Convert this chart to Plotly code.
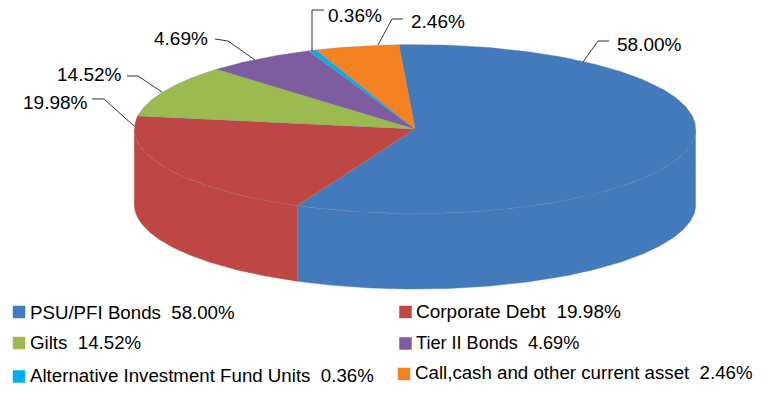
import numpy as np
import plotly.graph_objects as go

categories = ["PSU/PFI Bonds", "Corporate Debt", "Gilts", "Tier II Bonds",
              "Alternative Investment Fund Units", "Call,cash and other current asset"]
printed_pct = ["58.00%", "19.98%", "14.52%", "4.69%", "0.36%", "2.46%"]
drawn_share = [57.8, 20.55, 10.08, 6.28, 0.45, 4.84]
colors = ["#437ABC", "#BE4643", "#9BBA4F", "#7D5CA0", "#00AEEF", "#F58220"]

# Pie geometry
CX, CY, RX, RY, DEPTH = 415.0, 129.0, 280.7, 84.5, 75.5
START = 356.73

# Outside labels: text position and leader polyline
label_pos = [(649, 44), (55, 102), (89, 74), (181, 38), (355, 15), (438, 21)]
leaders = [
    [(609, 41), (598, 41), (583, 62)],
    [(92, 99), (104, 99), (134, 126)],
    [(127, 76), (138, 76), (162, 92)],
    [(215, 39), (228, 41), (255, 60)],
    [(324, 10), (312, 10), (312, 51)],
    [(403, 19), (392, 19), (378, 45)],
]
# Legend layout: square centre, text left, text centre y, font size
legend_sq = [(19, 312), (405.5, 312), (19, 343), (405.5, 343.5), (19, 376.5), (404, 374)]
legend_txt = [(28, 312), (414, 311), (28, 342), (414, 343), (28, 375), (413, 372)]
legend_size = [18.7, 19, 18.7, 18.1, 18.7, 18.7]


def ell(deg, dy=0.0):
    t = np.radians(deg)
    return CX + RX * np.sin(t), CY - RY * np.cos(t) + dy


edges = START + np.concatenate([[0], np.cumsum(drawn_share)]) / sum(drawn_share) * 360
fig = go.Figure()

# Outer wall (front half only, 90..270 degrees clockwise from the top)
for i, col in enumerate(colors):
    for turn in (0, 360):
        a = max(edges[i] - turn, 90)
        b = min(edges[i + 1] - turn, 270)
        if b <= a:
            continue
        th = np.linspace(a, b, 160)
        x1, y1 = ell(th)
        x2, y2 = ell(th[::-1], DEPTH)
        fig.add_trace(go.Scatter(x=np.r_[x1, x2], y=np.r_[y1, y2], mode="lines", fill="toself",
                                 fillcolor=col, line=dict(color=col, width=0.5), hoverinfo="skip"))

# Top face
for i, col in enumerate(colors):
    th = np.linspace(edges[i], edges[i + 1], 200)
    x, y = ell(th)
    fig.add_trace(go.Scatter(x=np.r_[CX, x, CX], y=np.r_[CY, y, CY], mode="lines", fill="toself",
                             fillcolor=col, line=dict(color="rgba(125,125,145,0.4)", width=0.7),
                             hoverinfo="skip"))

# Leaders
for pts in leaders:
    fig.add_trace(go.Scatter(x=[p[0] for p in pts], y=[p[1] for p in pts], mode="lines",
                             line=dict(color="#333333", width=1), hoverinfo="skip"))

# Legend squares
fig.add_trace(go.Scatter(x=[p[0] for p in legend_sq], y=[p[1] for p in legend_sq], mode="markers",
                         marker=dict(symbol="square", size=12.5, color=colors, line=dict(width=0)),
                         hoverinfo="skip"))

ann = []
for t, p in zip(printed_pct, label_pos):
    ann.append(dict(x=p[0], y=p[1], text=t, showarrow=False, xanchor="center", yanchor="middle",
                    font=dict(family="Liberation Sans", size=19, color="#000000")))
for c, t, p, s in zip(categories, printed_pct, legend_txt, legend_size):
    ann.append(dict(x=p[0], y=p[1], text=f"{c}\u00a0\u00a0{t}", showarrow=False, xanchor="left",
                    yanchor="middle", font=dict(family="Liberation Sans", size=s, color="#000000")))

fig.update_layout(
    width=763, height=396, margin=dict(l=0, r=0, t=0, b=0), showlegend=False,
    paper_bgcolor="white", plot_bgcolor="white", annotations=ann,
    xaxis=dict(range=[0, 763], visible=False, fixedrange=True),
    yaxis=dict(range=[396, 0], visible=False, fixedrange=True),
)
fig.write_html("out.html", config={"displayModeBar": False},
               post_script="document.body.style.margin='0';document.body.style.overflow='hidden';")
